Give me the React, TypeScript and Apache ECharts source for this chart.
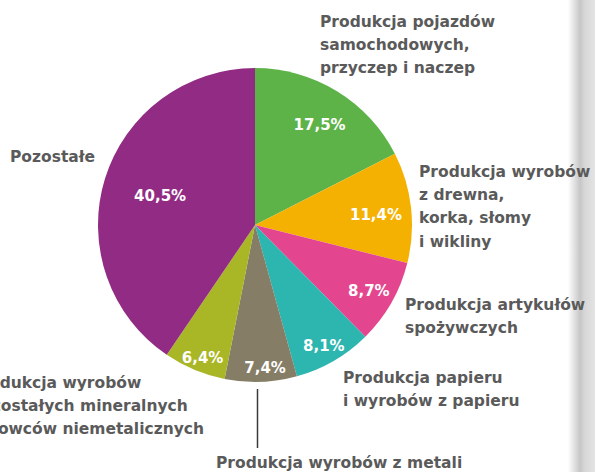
import React, { useEffect, useRef } from "react";
import * as echarts from "echarts";

const categories = [
  "Produkcja pojazdów samochodowych, przyczep i naczep",
  "Produkcja wyrobów z drewna, korka, słomy i wikliny",
  "Produkcja artykułów spożywczych",
  "Produkcja papieru i wyrobów z papieru",
  "Produkcja wyrobów z metali",
  "Produkcja wyrobów z pozostałych mineralnych surowców niemetalicznych",
  "Pozostałe",
];
const shares = [17.5, 11.4, 8.7, 8.1, 7.4, 6.4, 40.5];
const colors = ["#5db348", "#f5b101", "#e3468f", "#2db5b0", "#857d66", "#a9b625", "#922b84"];
const labelOffsets: [number, number][] = [
  [22, -31],
  [40, -1],
  [43, 26],
  [28, 50],
  [7, 62],
  [-21, 58],
  [-17, -5],
];

const LABEL_FONT = 'bold 15.5px "DejaVu Sans"';
const LH = 23.3;

export default function App() {
  const ref = useRef<HTMLDivElement>(null);
  useEffect(() => {
    if (!ref.current) return;
    const chart = echarts.init(ref.current, undefined, { renderer: "svg" });
    const textEl = (x: number, y: number, text: string) => ({
      type: "text",
      x,
      y,
      style: {
        text,
        font: LABEL_FONT,
        fill: "#5a5a5a",
        lineHeight: LH,
        verticalAlign: "top",
        align: "left",
      },
    });
    chart.setOption({
      animation: false,
      backgroundColor: "#ffffff",
      series: [
        {
          type: "pie",
          center: [255, 225],
          radius: 157,
          startAngle: 90,
          clockwise: true,
          silent: true,
          itemStyle: { borderWidth: 0 },
          labelLine: { show: false },
          data: categories.map((name, i) => ({
            name,
            value: shares[i],
            itemStyle: { color: colors[i] },
            label: {
              show: true,
              position: "inside",
              offset: labelOffsets[i],
              formatter: shares[i].toFixed(1).replace(".", ",") + "%",
              color: "#ffffff",
              fontFamily: "DejaVu Sans",
              fontWeight: "bold",
              fontSize: 15,
            },
          })),
        },
      ],
      graphic: [
        {
          type: "rect",
          shape: { x: 568, y: 0, width: 27, height: 472 },
          style: {
            fill: new echarts.graphic.LinearGradient(0, 0, 1, 0, [
              { offset: 0, color: "#ffffff" },
              { offset: 0.45, color: "#c6c6c6" },
              { offset: 0.6, color: "#d6d6d6" },
              { offset: 1, color: "#e4e4e4" },
            ]),
          },
          silent: true,
        },
        textEl(320, 10.2, "Produkcja pojazdów\nsamochodowych,\nprzyczep i naczep"),
        textEl(419, 160, "Produkcja wyrobów\nz drewna,\nkorka, słomy\ni wikliny"),
        textEl(405, 293.2, "Produkcja artykułów\nspożywczych"),
        textEl(343, 366.2, "Produkcja papieru\ni wyrobów z papieru"),
        textEl(216, 451.2, "Produkcja wyrobów z metali"),
        textEl(-30, 371.2, "Produkcja wyrobów\npozostałych mineralnych\nsurowców niemetalicznych"),
        textEl(10, 145.2, "Pozostałe"),
        {
          type: "line",
          shape: { x1: 257.5, y1: 389, x2: 257.5, y2: 448 },
          style: { stroke: "#3a3a3a", lineWidth: 1.5 },
          silent: true,
        },
      ],
    });
    return () => chart.dispose();
  }, []);
  return (
    <div
      ref={ref}
      style={{ position: "fixed", left: 0, top: 0, width: 595, height: 472 }}
    />
  );
}
